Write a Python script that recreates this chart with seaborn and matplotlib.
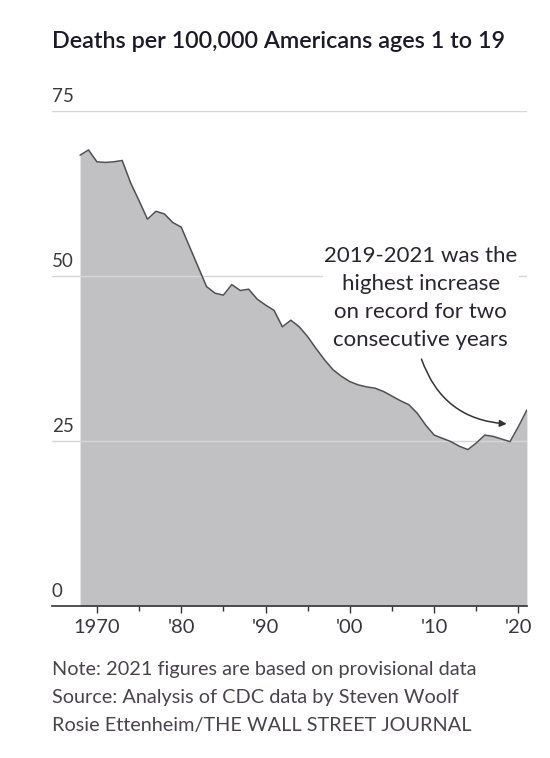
import numpy as np
import pandas as pd
import seaborn as sns
import matplotlib.pyplot as plt

# Datos (muertes por 100,000, edades 1-19)
anios = list(range(1968, 2022))
tasas = [68.3, 69.1, 67.3, 67.2, 67.3, 67.5, 64.1, 61.4, 58.6, 59.8,
         59.4, 58.1, 57.4, 54.4, 51.4, 48.4, 47.4, 47.1, 48.7, 47.8,
         48.0, 46.5, 45.6, 44.8, 42.3, 43.3, 42.3, 40.8, 39.0, 37.3,
         35.8, 34.8, 34.0, 33.5, 33.2, 33.0, 32.5, 31.8, 31.1, 30.5,
         29.2, 27.4, 25.9, 25.4, 24.9, 24.2, 23.7, 24.7, 25.9, 25.7,
         25.3, 24.9, 27.2, 29.7]

ticks_y = [0, 25, 50, 75]
ticks_x = [1970, 1980, 1990, 2000, 2010, 2020]
etiquetas_x = ["1970", "'80", "'90", "'00", "'10", "'20"]
ticks_x_menores = [1975, 1985, 1995, 2005, 2015]

titulo = "Deaths per 100,000 Americans ages 1 to 19"
nota = "2019-2021 was the\nhighest increase\non record for two\nconsecutive years"
pie = ["Note: 2021 figures are based on provisional data",
       "Source: Analysis of CDC data by Steven Woolf",
       "Rosie Ettenheim/THE WALL STREET JOURNAL"]

df = pd.DataFrame({"anio": anios, "tasa": tasas})

sns.set_theme(style="white")
plt.rcParams['font.family'] = ['Lato', 'DejaVu Sans']

fig = plt.figure(figsize=(5.5, 7.58), dpi=100)
ax = fig.add_axes([0.0945, 0.2005, 0.8635, 0.6531])

gris_relleno = "#c1c1c3"
ax.fill_between(df["anio"], df["tasa"], 0, color=gris_relleno, lw=0, zorder=2)
sns.lineplot(data=df, x="anio", y="tasa", color="#505050", lw=1.1, ax=ax, zorder=3)

ax.set_xlim(1964.67, 2021)
ax.set_ylim(0, 75)

# lineas de referencia horizontales
for v in ticks_y[1:]:
    ax.axhline(v, color="#d6d6d8", lw=1, zorder=1 if v == 75 else 2.5)

# etiquetas del eje y arriba de la linea
ax.set_yticks([])
for v in ticks_y:
    ax.annotate(str(v), xy=(0, v), xycoords=ax.get_yaxis_transform(),
                xytext=(0, 4), textcoords="offset points",
                ha="left", va="bottom", fontsize=13.5, color="#3a3a3a")

ax.set_xticks(ticks_x)
ax.set_xticklabels(etiquetas_x, fontsize=14.5, color="#3a3540")
ax.set_xticks(ticks_x_menores, minor=True)
ax.tick_params(axis="x", which="major", length=5, width=1, color="#333333",
               direction="out", pad=4, bottom=True)
ax.tick_params(axis="x", which="minor", length=3.5, width=1, color="#333333",
               direction="out", bottom=True)
ax.set_xlabel("")
ax.set_ylabel("")

for lado in ["top", "right", "left"]:
    ax.spines[lado].set_visible(False)
ax.spines["bottom"].set_color("#333333")
ax.spines["bottom"].set_linewidth(1.2)
ax.spines["bottom"].set_zorder(4)

# anotacion con flecha
ax.text(2008.4, 46.6, nota, ha="center", va="center", fontsize=16,
        color="#2a2430", linespacing=1.5, zorder=5,
        bbox=dict(facecolor="white", edgecolor="none", pad=1))
ax.annotate("", xy=(2018.6, 27.6), xytext=(2008.5, 37.4),
            arrowprops=dict(arrowstyle="-|>", color="#333333", lw=1.1,
                            connectionstyle="arc3,rad=0.33",
                            mutation_scale=10, shrinkA=0, shrinkB=0),
            zorder=5)

fig.text(52 / 550, 1 - 42 / 758, titulo, ha="left", va="center",
         fontsize=16.8, color="#1c1a28", fontweight="semibold")

for i, linea in enumerate(pie):
    fig.text(52 / 550, 1 - (670 + 27.5 * i) / 758, linea, ha="left",
             va="center", fontsize=14.3, color="#4a424c")

fig.savefig("out.png", dpi=100, facecolor="white")
plt.close()
